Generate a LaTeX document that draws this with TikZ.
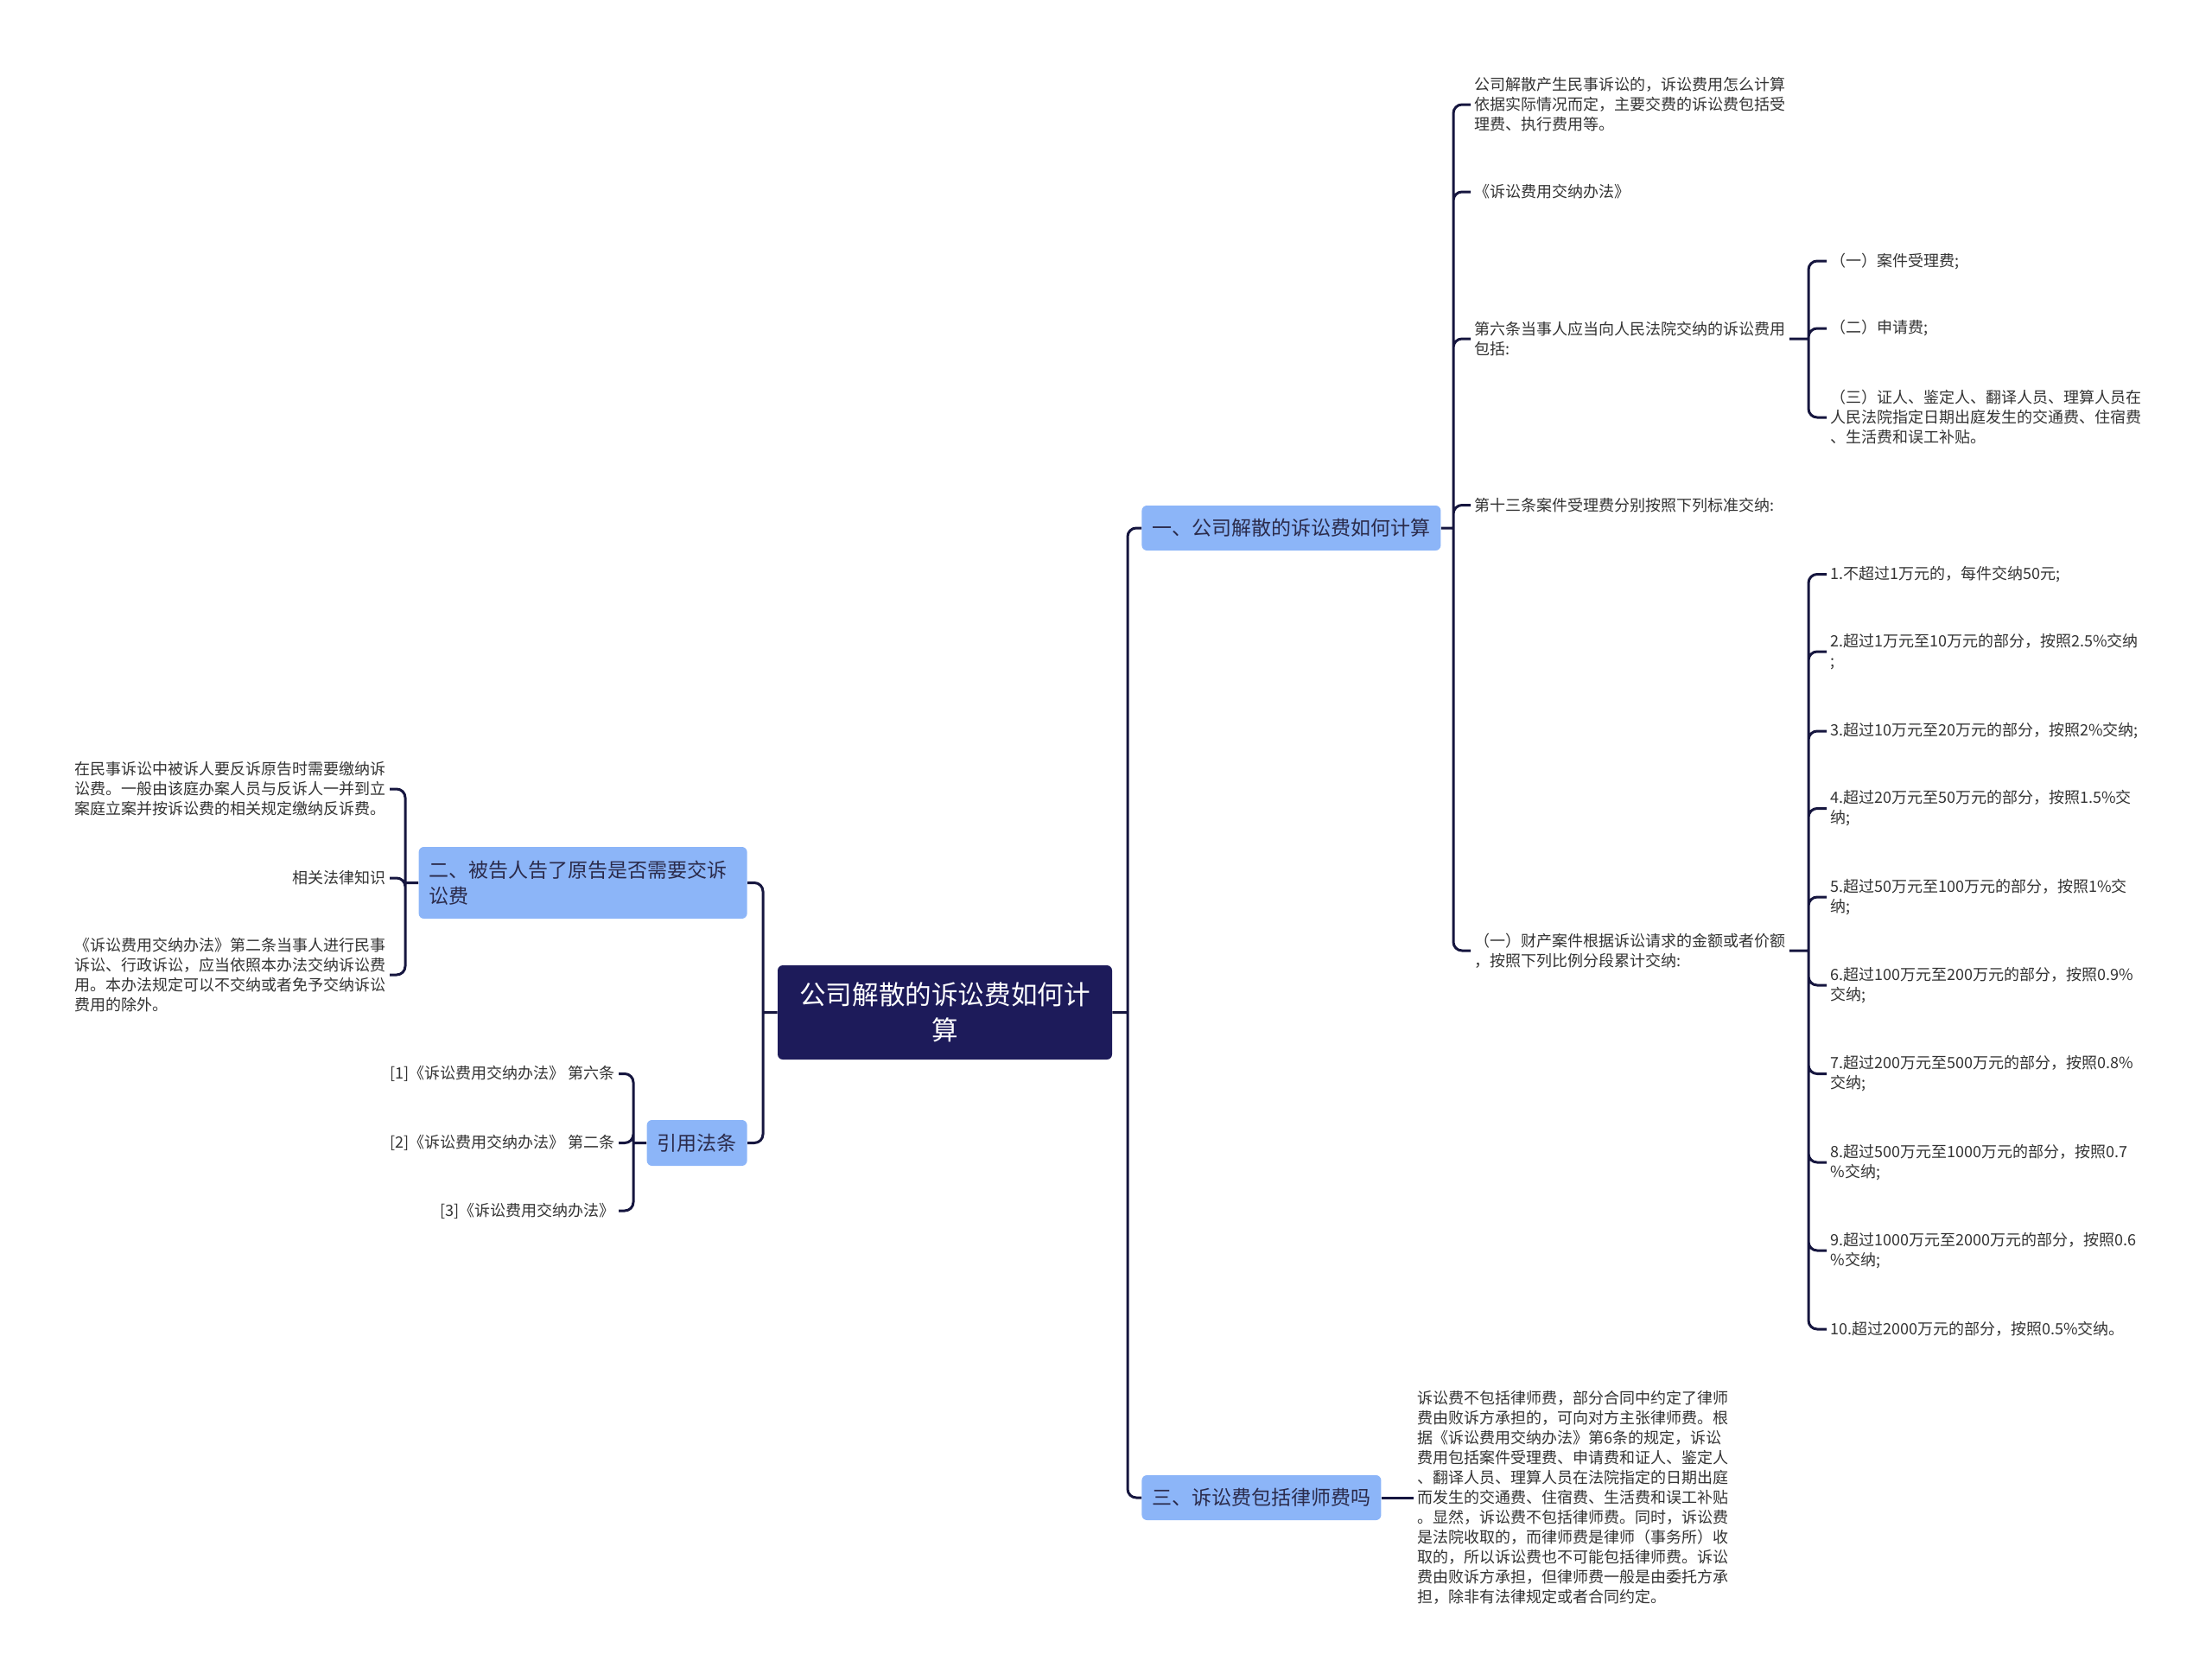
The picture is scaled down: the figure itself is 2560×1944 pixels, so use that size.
\documentclass[tikz,border=0pt]{standalone}
\usepackage{fontspec}
\setmainfont{Noto Sans CJK SC}
\usetikzlibrary{positioning}
\definecolor{rootfill}{HTML}{1D1B5A}
\definecolor{linkcol}{HTML}{16163F}
\definecolor{branchfill}{HTML}{8CB5F8}
\definecolor{branchtext}{HTML}{2B2B4B}
\definecolor{leaftext}{HTML}{333333}

\begin{document}
\begin{tikzpicture}[
			x=0.5pt, y=-0.5pt,
			root/.style={rectangle, rounded corners=3pt, fill=rootfill, text=white, minimum width=193.5pt, minimum height=54.5pt, align=center, font=\fontsize{15.3}{20.4}\selectfont},
			branch/.style={rectangle, rounded corners=3pt, fill=branchfill, text=branchtext, minimum height=26pt, inner xsep=6pt, align=left, font=\fontsize{11.5}{14.7}\selectfont},
			leaf/.style={inner xsep=2pt, inner ysep=2pt, align=left, text=leaftext, font=\fontsize{9}{11.5}\selectfont},
			link/.style={draw=linkcol, line width=1.5pt, rounded corners=5pt}
			]
			\useasboundingbox (0,0) rectangle (2560,1944);
			
			\node[root] (root) at (1093.5,1171.5) {公司解散的诉讼费如何计\\算};
			
			\node[branch, anchor=west, minimum width=172pt] (b1) at (1321,611) {一、公司解散的诉讼费如何计算};
			\node[branch, anchor=west] (b3) at (1321,1733) {三、诉讼费包括律师费吗};
			\node[branch, anchor=east, text width=178pt, minimum height=41.5pt] (b2) at (865,1021.5) {二、被告人告了原告是否需要交诉\\讼费};
			\node[branch, anchor=east, minimum height=26.5pt] (cite) at (865,1322.5) {引用法条};
			
			\coordinate (rs) at (1305,1171.5);
			\coordinate (ls) at (883,1171.5);
			\draw[link] (root.east) -- (rs) (rs) |- (b1.west) (rs) |- (b3.west);
			\draw[link] (root.west) -- (ls) (ls) |- (b2.east) (ls) |- (cite.east);
			
			\node[leaf, anchor=west] (c1) at (1702,121) {公司解散产生民事诉讼的，诉讼费用怎么计算\\依据实际情况而定，主要交费的诉讼费包括受\\理费、执行费用等。};
			\node[leaf, anchor=west] (c2) at (1702,222) {《诉讼费用交纳办法》};
			\node[leaf, anchor=west] (c3) at (1702,392) {第六条当事人应当向人民法院交纳的诉讼费用\\包括:};
			\node[leaf, anchor=west] (c4) at (1702,584.5) {第十三条案件受理费分别按照下列标准交纳:};
			\node[leaf, anchor=west] (c5) at (1702,1100) {（一）财产案件根据诉讼请求的金额或者价额\\，按照下列比例分段累计交纳:};
			
			\coordinate (s1) at (1682,611);
			\draw[link] (b1.east) -- (s1) (s1) |- (c1.west) (s1) |- (c2.west) (s1) |- (c3.west) (s1) |- (c4.west) (s1) |- (c5.west);
			
			\node[leaf, anchor=west] (g1) at (2114,302) {（一）案件受理费;};
			\node[leaf, anchor=west] (g2) at (2114,380) {（二）申请费;};
			\node[leaf, anchor=west] (g3) at (2114,483) {（三）证人、鉴定人、翻译人员、理算人员在\\人民法院指定日期出庭发生的交通费、住宿费\\、生活费和误工补贴。};
			
			\coordinate (s3) at (2093,392);
			\draw[link] (c3.east) -- (s3) (s3) |- (g1.west) (s3) |- (g2.west) (s3) |- (g3.west);
			
			\node[leaf, anchor=west] (n1) at (2114,664.5) {1.不超过1万元的，每件交纳50元;};
			\node[leaf, anchor=west] (n2) at (2114,754) {2.超过1万元至10万元的部分，按照2.5\%交纳\\;};
			\node[leaf, anchor=west] (n3) at (2114,846) {3.超过10万元至20万元的部分，按照2\%交纳;};
			\node[leaf, anchor=west] (n4) at (2114,935.5) {4.超过20万元至50万元的部分，按照1.5\%交\\纳;};
			\node[leaf, anchor=west] (n5) at (2114,1038) {5.超过50万元至100万元的部分，按照1\%交\\纳;};
			\node[leaf, anchor=west] (n6) at (2114,1140) {6.超过100万元至200万元的部分，按照0.9\%\\交纳;};
			\node[leaf, anchor=west] (n7) at (2114,1242.5) {7.超过200万元至500万元的部分，按照0.8\%\\交纳;};
			\node[leaf, anchor=west] (n8) at (2114,1345) {8.超过500万元至1000万元的部分，按照0.7\\\%交纳;};
			\node[leaf, anchor=west] (n9) at (2114,1447) {9.超过1000万元至2000万元的部分，按照0.6\\\%交纳;};
			\node[leaf, anchor=west] (n10) at (2114,1538) {10.超过2000万元的部分，按照0.5\%交纳。};
			
			\coordinate (s5) at (2093,1100);
			\draw[link] (c5.east) -- (s5) (s5) |- (n1.west) (s5) |- (n2.west) (s5) |- (n3.west) (s5) |- (n4.west) (s5) |- (n5.west)
			(s5) |- (n6.west) (s5) |- (n7.west) (s5) |- (n8.west) (s5) |- (n9.west) (s5) |- (n10.west);
			
			\node[leaf, anchor=west] (d1) at (1636,1733) {诉讼费不包括律师费，部分合同中约定了律师\\费由败诉方承担的，可向对方主张律师费。根\\据《诉讼费用交纳办法》第6条的规定，诉讼\\费用包括案件受理费、申请费和证人、鉴定人\\、翻译人员、理算人员在法院指定的日期出庭\\而发生的交通费、住宿费、生活费和误工补贴\\。显然，诉讼费不包括律师费。同时，诉讼费\\是法院收取的，而律师费是律师（事务所）收\\取的，所以诉讼费也不可能包括律师费。诉讼\\费由败诉方承担，但律师费一般是由委托方承\\担，除非有法律规定或者合同约定。};
			\draw[link] (b3.east) -- (d1.west);
			
			\node[leaf, anchor=east] (k1) at (451,913) {在民事诉讼中被诉人要反诉原告时需要缴纳诉\\讼费。一般由该庭办案人员与反诉人一并到立\\案庭立案并按诉讼费的相关规定缴纳反诉费。};
			\node[leaf, anchor=east] (k2) at (451,1016) {相关法律知识};
			\node[leaf, anchor=east] (k3) at (451,1128) {《诉讼费用交纳办法》第二条当事人进行民事\\诉讼、行政诉讼，应当依照本办法交纳诉讼费\\用。本办法规定可以不交纳或者免予交纳诉讼\\费用的除外。};
			
			\coordinate (s2) at (469,1021.5);
			\draw[link] (b2.west) -- (s2) (s2) |- (k1.east) (s2) |- (k2.east) (s2) |- (k3.east);
			
			\node[leaf, anchor=east] (r1) at (716,1242.5) {[1]《诉讼费用交纳办法》 第六条};
			\node[leaf, anchor=east] (r2) at (716,1322.5) {[2]《诉讼费用交纳办法》 第二条};
			\node[leaf, anchor=east] (r3) at (716,1401) {[3]《诉讼费用交纳办法》};
			
			\coordinate (s4) at (733,1322.5);
			\draw[link] (cite.west) -- (s4) (s4) |- (r1.east) (s4) |- (r2.east) (s4) |- (r3.east);
		\end{tikzpicture}
\end{document}
